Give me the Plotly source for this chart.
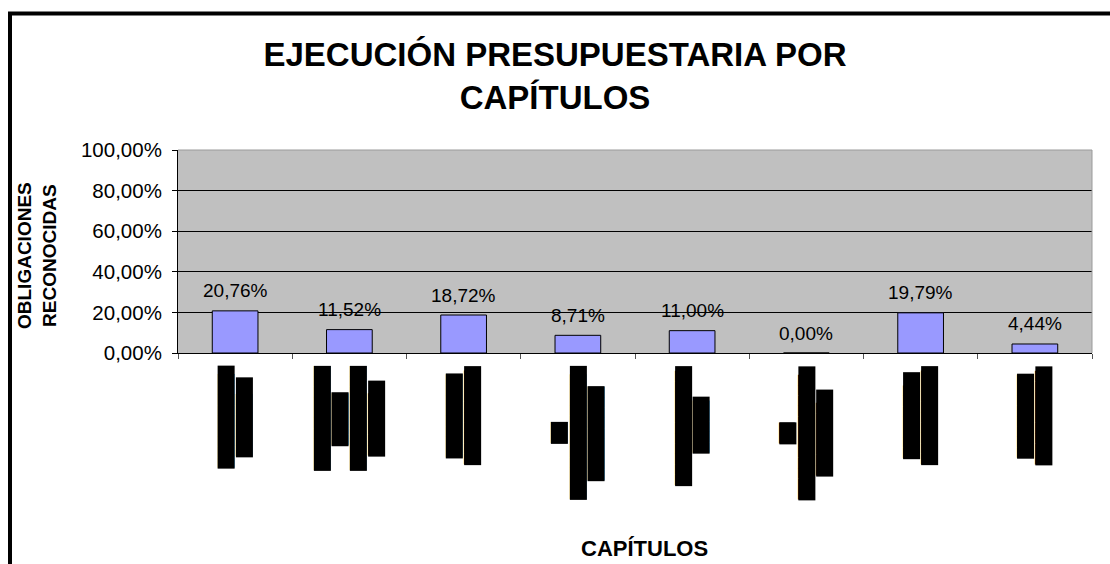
import plotly.graph_objects as go

# ---- data ----
capitulos = ["C1", "C2", "C3", "C4", "C5", "C6", "C7", "C8"]
obligaciones = [0.2076, 0.1152, 0.1872, 0.0871, 0.1100, 0.0000, 0.1979, 0.0444]
# category labels as rendered in the source: every glyph shows as a filled box
B, d = "\u2588", "."
etiquetas = [
    [B * 9 + d * 2, B * 6 + d * 4],
    [B * 10, B * 5, B * 10, B * 6 + d * 3],
    [B * 8, B * 9 + d],
    [B * 2, B * 12 + d * 2, B * 9],
    [B * 11 + d, B * 5 + d],
    [B * 2, B * 12 + d * 2, B * 7 + d * 3],
    [B * 7 + d * 3, B * 9 + d],
    [B * 8, B * 9 + d],
]
titulo = "EJECUCIÓN PRESUPUESTARIA POR<br>CAPÍTULOS"
titulo_y = "OBLIGACIONES<br>RECONOCIDAS"
titulo_x = "CAPÍTULOS"

# ---- layout geometry ----
W, H = 1110, 564
ML, MR, MT, MB = 178, 18, 150, 211
PW, PH = W - ML - MR, H - MT - MB
FONT = "Liberation Sans, Arial, sans-serif"
LAB_SIZE = 13.5                      # DejaVu Sans size for the box labels
ADV = {B: 0.766 * LAB_SIZE, d: 0.318 * LAB_SIZE}
LINE_PITCH, LAB_GAP = 18, 13


def px_x(p):
    return (p - ML) / PW


def px_y(p):
    return (H - MB - p) / PH


def text_len(s):
    return sum(ADV[ch] for ch in s)


fig = go.Figure(
    go.Bar(
        x=capitulos,
        y=obligaciones,
        width=0.4,
        marker=dict(color="#9999FF", line=dict(color="black", width=1)),
        hoverinfo="skip",
    )
)

annotations = []
for c, v in zip(capitulos, obligaciones):
    annotations.append(dict(
        x=c, y=v, xref="x", yref="y",
        text=f"{v * 100:.2f}%".replace(".", ","),
        showarrow=False, yanchor="middle", xanchor="center", yshift=20,
        font=dict(family=FONT, size=19, color="black"),
    ))
for c, lines in zip(capitulos, etiquetas):
    n = len(lines)
    longest = max(text_len(s) for s in lines)
    for j, s in enumerate(lines):
        annotations.append(dict(
            x=c, y=0, xref="x", yref="paper",
            text=s, textangle=-90,
            showarrow=False, yanchor="top", xanchor="center",
            xshift=(j - (n - 1) / 2) * LINE_PITCH,
            yshift=-(LAB_GAP + (longest - text_len(s)) / 2),
            bgcolor="black", borderpad=0, borderwidth=0,
            font=dict(family="DejaVu Sans", size=LAB_SIZE, color="black"),
        ))
annotations.append(dict(
    x=px_x(644), y=px_y(548), xref="paper", yref="paper",
    text=titulo_x, showarrow=False, xanchor="center", yanchor="middle",
    font=dict(family=FONT, size=22, color="black", weight="bold"),
))
annotations.append(dict(
    x=px_x(62), y=px_y(256), xref="paper", yref="paper",
    text=titulo_y, textangle=-90, showarrow=False, xanchor="right", yanchor="middle",
    align="center",
    font=dict(family=FONT, size=19, color="black", weight="bold"),
))

shapes = [
    # plot area border (top / right)
    dict(type="line", xref="paper", yref="paper", x0=0, x1=1, y0=1, y1=1,
         line=dict(color="#9a9a9a", width=1), layer="above"),
    dict(type="line", xref="paper", yref="paper", x0=1, x1=1, y0=0, y1=1,
         line=dict(color="#9a9a9a", width=1), layer="above"),
    # chart frame
    dict(type="rect", xref="paper", yref="paper",
         x0=px_x(10), x1=px_x(W + 20), y0=px_y(13.5), y1=px_y(H + 20),
         line=dict(color="black", width=4), layer="above"),
]

fig.update_layout(
    width=W, height=H,
    margin=dict(l=ML, r=MR, t=MT, b=MB, pad=0),
    paper_bgcolor="white",
    plot_bgcolor="#C0C0C0",
    separators=",.",
    showlegend=False,
    font=dict(family=FONT, color="black"),
    title=dict(
        text=titulo, x=0.5, xref="container", xanchor="center",
        y=1 - 66 / H, yref="container", yanchor="top",
        font=dict(family=FONT, size=33, color="black", weight="bold"),
    ),
    annotations=annotations,
    shapes=shapes,
)
fig.update_yaxes(
    range=[0, 1], tickvals=[0, 0.2, 0.4, 0.6, 0.8, 1.0], tickformat=".2%",
    showgrid=True, gridcolor="black", gridwidth=1, zeroline=False,
    showline=True, linecolor="black", linewidth=1,
    ticks="outside", ticklen=5, tickcolor="black",
    tickfont=dict(family=FONT, size=20.5, color="black"),
    ticklabelstandoff=6,
)
fig.update_xaxes(
    range=[-0.5, 7.5], showticklabels=False, showgrid=False, zeroline=False,
    showline=True, linecolor="black", linewidth=1,
    ticks="outside", tickson="boundaries", ticklen=5, tickcolor="#555",
)

fig.write_html(
    "out.html",
    config={"displayModeBar": False},
    post_script="document.body.style.margin='0';document.body.style.padding='0';",
)
